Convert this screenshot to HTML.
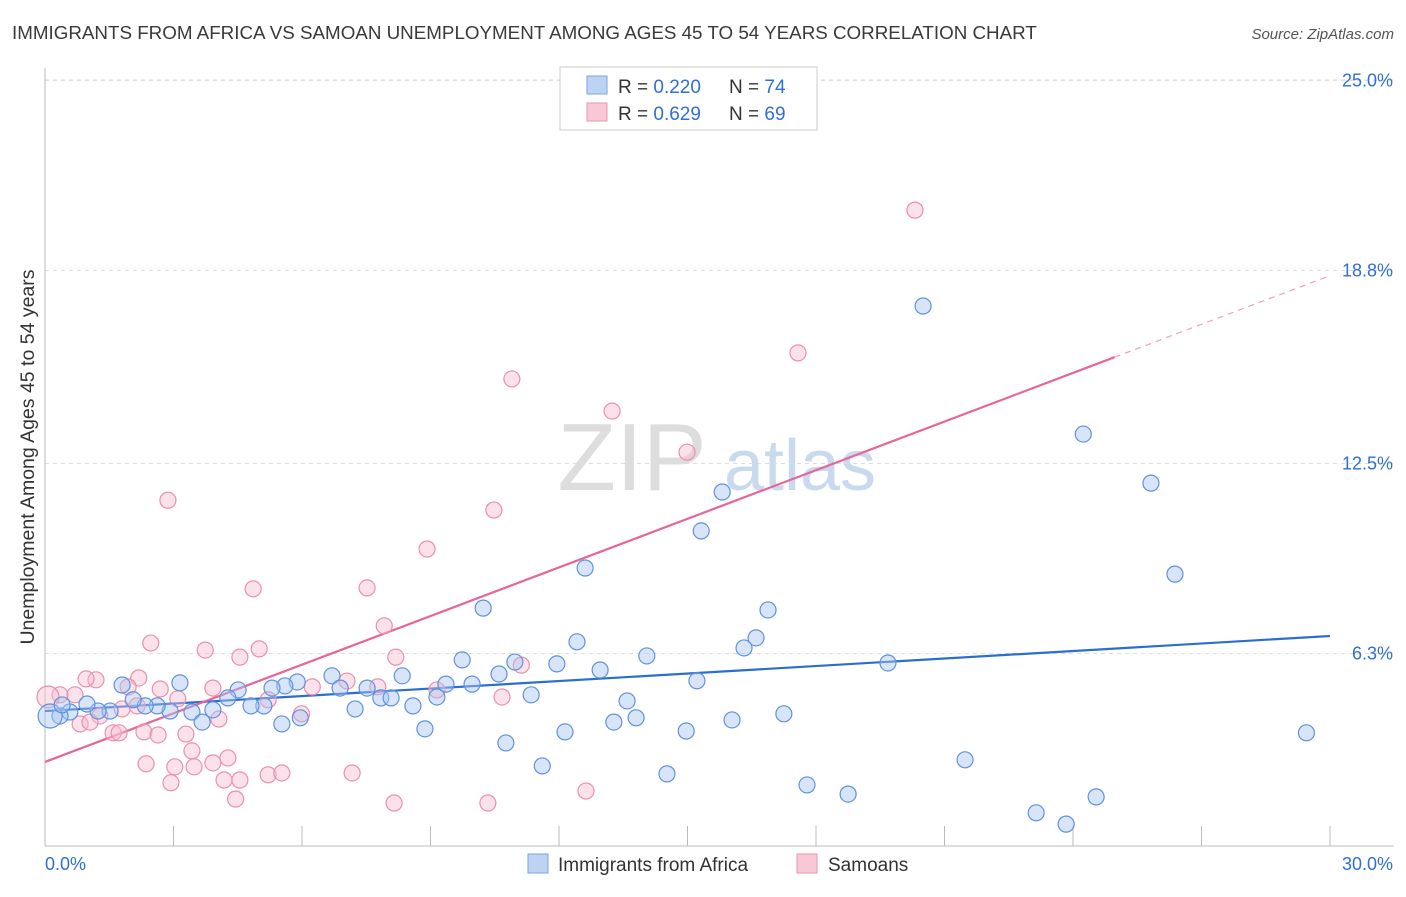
<!DOCTYPE html>
<html><head><meta charset="utf-8"><style>
body{margin:0;background:#fff;font-family:"Liberation Sans",sans-serif;}
svg text{font-family:"Liberation Sans",sans-serif;}
</style></head><body>
<svg id="chart" width="1406" height="892" xmlns="http://www.w3.org/2000/svg">
<text x="12" y="39" font-size="18.8" fill="#3a3a3a">IMMIGRANTS FROM AFRICA VS SAMOAN UNEMPLOYMENT AMONG AGES 45 TO 54 YEARS CORRELATION CHART</text>
<text x="1394" y="39" font-size="15" fill="#555" text-anchor="end" font-style="italic">Source: ZipAtlas.com</text>
<g>
<text x="632" y="490" font-size="96" fill="#ddd" font-family="Liberation Serif" text-anchor="middle">ZIP</text>
<text x="800" y="490" font-size="72" fill="#c9d9ee" text-anchor="middle">atlas</text>
</g>
<g id="grid"></g><g id="axes"></g><g id="trends"></g><g id="points"></g>
<text transform="translate(34,457) rotate(-90)" font-size="19.5" fill="#333" text-anchor="middle">Unemployment Among Ages 45 to 54 years</text>
<g>
<rect x="560" y="67" width="257" height="63" fill="#fff" stroke="#ccc"/>
<rect x="587" y="76" width="20" height="18" fill="#bcd3f3" stroke="#7aa3e0"/>
<rect x="587" y="103" width="20" height="18" fill="#f9c8d6" stroke="#ec93ae"/>
<text x="618" y="93" font-size="19" fill="#333">R = <tspan fill="#2f6fd6">0.220</tspan></text>
<text x="729" y="93" font-size="19" fill="#333">N = <tspan fill="#2f6fd6">74</tspan></text>
<text x="618" y="120" font-size="19" fill="#333">R = <tspan fill="#2f6fd6">0.629</tspan></text>
<text x="729" y="120" font-size="19" fill="#333">N = <tspan fill="#2f6fd6">69</tspan></text>
</g>
<g>
<rect x="528" y="854" width="20" height="19" fill="#bcd3f3" stroke="#7aa3e0"/>
<text x="558" y="871" font-size="19" fill="#333">Immigrants from Africa</text>
<rect x="797" y="854" width="20" height="19" fill="#f9c8d6" stroke="#ec93ae"/>
<text x="828" y="871" font-size="19" fill="#333">Samoans</text>
</g>
</svg>
<script>
const yTicks=[6.3,12.5,18.8,25.0];
const yTickLabels=["6.3%","12.5%","18.8%","25.0%"];
const xTicks=[0,3,6,9,12,15,18,21,24,27,30];
const xTickLabels=["0.0%","30.0%"];
const blueX=[20.5,24.24,25.82,26.38,15.81,15.32,12.61,16.88,16.6,16.32,12.42,14.05,10.23,9.74,10.97,11.95,12.96,10.6,9.97,9.36,11.35,15.22,19.68,8.34,6.7,5.89,5.6,5.3,4.51,3.15,1.8,6.89,7.52,7.84,8.08,9.15,13.59,8.59,7.24,5.11,4.81,4.27,3.92,3.43,2.92,2.62,2.34,2.06,1.52,1.24,0.98,0.58,0.35,0.12,0.4,5.96,5.53,3.67,8.87,13.28,13.8,16.04,17.25,14.97,12.14,10.76,11.61,14.52,21.48,17.79,18.75,24.54,23.14,23.84,29.45];
const blueY=[17.64,13.46,11.86,8.89,11.57,10.3,9.09,7.72,6.81,6.48,6.68,6.22,7.78,6.09,6.02,5.96,5.76,5.63,5.3,5.3,4.95,5.41,5.99,5.57,5.57,5.37,5.24,5.17,5.11,5.34,5.27,5.17,5.17,4.85,4.85,4.88,4.75,4.59,4.49,4.59,4.59,4.85,4.46,4.39,4.42,4.59,4.59,4.79,4.42,4.42,4.65,4.39,4.26,4.26,4.62,4.2,4.0,4.06,3.84,4.06,4.2,4.13,4.33,3.77,3.74,3.38,2.63,2.37,2.83,2.01,1.71,1.62,1.1,0.73,3.71];
const pinkX=[20.31,17.58,10.9,13.24,14.99,10.48,2.87,8.92,4.86,7.52,7.92,2.47,3.74,4.55,5.0,8.19,11.12,2.19,1.19,0.96,1.94,2.69,3.92,6.24,7.05,7.77,9.15,10.67,5.21,3.1,0.35,0.07,0.7,1.8,2.15,5.99,4.06,1.28,0.82,1.05,1.59,1.73,2.31,2.64,3.29,3.43,4.27,3.92,3.03,2.36,3.48,2.94,4.18,4.55,5.21,5.53,7.17,4.45,8.15,10.34,12.63];
const pinkY=[20.77,16.11,15.26,14.21,12.87,10.98,11.3,9.71,8.41,8.44,7.2,6.64,6.41,6.18,6.45,6.18,5.92,5.5,5.44,5.47,5.21,5.14,5.17,5.21,5.4,5.21,5.11,4.88,4.79,4.82,4.95,4.88,4.95,4.49,4.59,4.33,4.16,4.26,4.0,4.06,3.71,3.71,3.74,3.64,3.67,3.12,2.89,2.73,2.6,2.7,2.6,2.08,2.17,2.17,2.34,2.4,2.4,1.55,1.42,1.42,1.81];
const blueTrend=[4.42,6.87];
const pinkTrend=[2.76,0.529];
const pinkSolidEnd=24.97;

const NS="http://www.w3.org/2000/svg";
const X=v=>45+v/30*1285;
const Y=v=>846.5-v/6.25*191.5;
function mk(tag,attrs,parent){const e=document.createElementNS(NS,tag);for(const k in attrs)e.setAttribute(k,attrs[k]);document.getElementById(parent).appendChild(e);return e;}
yTicks.forEach((t,i)=>{
 const g=mk('line',{x1:45,x2:1394,y1:Y(t),y2:Y(t),stroke:'#ddd','stroke-dasharray':'4,4'},'grid');
 
 
 const l=mk('text',{x:1393,y:Y(t)+6,'font-size':18,fill:'#2f6fd6','text-anchor':'end'},'axes');
 l.textContent=yTickLabels[i];
 
 
});
const topGrid=mk('line',{x1:45,x2:1394,y1:80,y2:80,stroke:'#ddd','stroke-dasharray':'4,4'},'grid');


const ya=mk('line',{x1:45,x2:45,y1:68,y2:846,stroke:'#bbb'},'axes');


const xa=mk('line',{x1:45,x2:1394,y1:846,y2:846,stroke:'#bbb'},'axes');


xTicks.forEach(t=>{
 const k=mk('line',{x1:X(t),x2:X(t),y1:826,y2:846,stroke:'#bbb'},'axes');
 
 
});
const xl0=mk('text',{x:45,y:870,'font-size':18,fill:'#2f6fd6'},'axes');xl0.textContent=xTickLabels[0];


const xl1=mk('text',{x:1393,y:870,'font-size':18,fill:'#2f6fd6','text-anchor':'end'},'axes');xl1.textContent=xTickLabels[1];


function pts(xs,ys,fill,stroke,name,bigR){
 xs.forEach((x,i)=>{
  const r=(x<0.2)?bigR:8;
  const c=mk('circle',{cx:X(x),cy:Y(ys[i]),r:r,fill:fill,'fill-opacity':0.45,stroke:stroke,'stroke-width':1.2},'points');
  
  
 });
}
pts(pinkX,pinkY,'#f7bfd0','#ec8fac','samoan-point',11);
pts(blueX,blueY,'#a9c6f0','#5f92de','africa-point',12);
const bt=mk('line',{x1:X(0),y1:Y(blueTrend[0]),x2:X(30),y2:Y(blueTrend[1]),stroke:'#2a6ed4','stroke-width':2.2},'trends');


const pt=mk('line',{x1:X(0),y1:Y(pinkTrend[0]),x2:X(pinkSolidEnd),y2:Y(pinkTrend[0]+pinkTrend[1]*pinkSolidEnd),stroke:'#e8659a','stroke-width':2.2},'trends');


const pd=mk('line',{x1:X(pinkSolidEnd),y1:Y(pinkTrend[0]+pinkTrend[1]*pinkSolidEnd),x2:X(30),y2:Y(pinkTrend[0]+pinkTrend[1]*30),stroke:'#f0a0bd','stroke-width':1.2,'stroke-dasharray':'6,5'},'trends');


</script>
</body></html>
